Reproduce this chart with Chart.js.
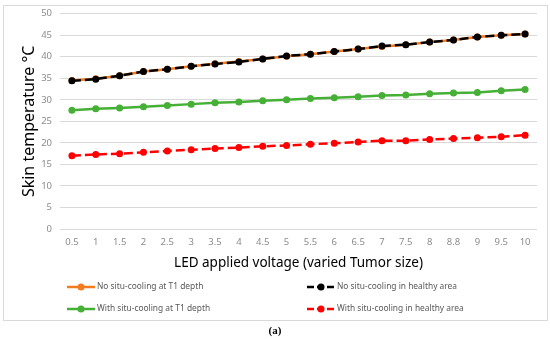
<!DOCTYPE html>
<html>
<head>
<meta charset="utf-8">
<script src="https://cdn.jsdelivr.net/npm/chart.js@4/dist/chart.umd.min.js"></script>
<style>
  html, body { margin: 0; padding: 0; background: #fff; }
  #wrap { position: relative; width: 550px; height: 339px; }
  #frame { position: absolute; left: 3px; top: 5px; width: 543px; height: 314px; border: 1px solid #d9d9d9; }
  #chart { position: absolute; left: 0; top: 0; }
  #caption { position: absolute; left: 0; width: 550px; top: 324px; text-align: center;
             font: bold 11px "Liberation Serif", serif; color: #000; }
</style>
</head>
<body>
<div id="wrap">
  <div id="frame"></div>
  <canvas id="chart" width="550" height="339"></canvas>
  <div id="caption">(a)</div>
</div>
<script>
const voltages = ['0.5', '1', '1.5', '2', '2.5', '3', '3.5', '4', '4.5', '5', '5.5', '6', '6.5', '7', '7.5', '8', '8.8', '9', '9.5', '10'];
const noCoolingT1 = [34.5, 34.9, 35.6, 36.6, 37.1, 37.8, 38.4, 38.9, 39.5, 40.1, 40.6, 41.2, 41.8, 42.4, 42.8, 43.4, 43.9, 44.6, 45.0, 45.3];
const noCoolingHealthy = [34.4, 34.8, 35.6, 36.6, 37.1, 37.8, 38.3, 38.8, 39.5, 40.2, 40.6, 41.2, 41.8, 42.5, 42.8, 43.4, 43.9, 44.6, 45.0, 45.3];
const withCoolingT1 = [27.6, 27.9, 28.1, 28.4, 28.7, 29.0, 29.3, 29.5, 29.8, 30.0, 30.3, 30.5, 30.7, 31.0, 31.1, 31.4, 31.6, 31.7, 32.1, 32.4];
const withCoolingHealthy = [17.0, 17.3, 17.5, 17.8, 18.1, 18.4, 18.7, 18.9, 19.2, 19.4, 19.7, 19.9, 20.2, 20.5, 20.5, 20.8, 21.0, 21.2, 21.4, 21.8];

const dash = [9, 4];

const legendItems = [
    { text: 'No situ-cooling at T1 depth', color: '#f47c20', dashed: false, x: 67, y: 287 },
    { text: 'No situ-cooling in healthy area', color: '#000000', dashed: true, x: 307, y: 287 },
    { text: 'With situ-cooling at T1 depth', color: '#45b035', dashed: false, x: 67, y: 309 },
    { text: 'With situ-cooling in healthy area', color: '#ff0000', dashed: true, x: 307, y: 309 },
];

const legendPlugin = {
    id: 'boxLegend',
    afterDraw(chart) {
        const ctx = chart.ctx;
        ctx.save();
        legendItems.forEach((item) => {
            ctx.strokeStyle = item.color;
            ctx.fillStyle = item.color;
            ctx.lineWidth = 2.5;
            ctx.setLineDash(item.dashed ? [7, 3] : []);
            ctx.beginPath();
            ctx.moveTo(item.x, item.y);
            ctx.lineTo(item.x + 28, item.y);
            ctx.stroke();
            ctx.setLineDash([]);
            ctx.beginPath();
            ctx.arc(item.x + 14, item.y, 3.5, 0, Math.PI * 2);
            ctx.fill();
            ctx.fillStyle = '#595959';
            ctx.font = '8.4px "Noto Sans"';
            ctx.textBaseline = 'middle';
            ctx.fillText(item.text, item.x + 30, item.y);
        });
        ctx.restore();
    }
};

const lineStyle = (color, dashed) => ({
    borderColor: color,
    backgroundColor: color,
    pointBackgroundColor: color,
    pointBorderColor: color,
    borderWidth: 2.5,
    pointRadius: 3.5,
    pointBorderWidth: 0,
    borderDash: dashed ? dash : [],
    tension: 0,
});

new Chart(document.getElementById('chart'), {
    type: 'line',
    plugins: [legendPlugin],
    data: {
        labels: voltages,
        datasets: [
            { label: 'No situ-cooling at T1 depth', data: noCoolingT1, order: 2, ...lineStyle('#f47c20', false) },
            { label: 'No situ-cooling in healthy area', data: noCoolingHealthy, order: 1, ...lineStyle('#000000', true) },
            { label: 'With situ-cooling at T1 depth', data: withCoolingT1, order: 3, ...lineStyle('#45b035', false) },
            { label: 'With situ-cooling in healthy area', data: withCoolingHealthy, order: 0, ...lineStyle('#ff0000', true) },
        ]
    },
    options: {
        responsive: false,
        animation: false,
        layout: { padding: { left: 0, right: 13, top: 11, bottom: 65 } },
        plugins: {
            legend: { display: false },
            tooltip: { enabled: false },
        },
        scales: {
            x: {
                offset: true,
                afterFit: (scale) => { scale.height = 45; },
                grid: { display: false, drawTicks: false, offset: true },
                border: { display: false },
                ticks: { color: '#8c8c8c', font: { family: 'Noto Sans', size: 9.5 }, padding: 8, maxRotation: 0, autoSkip: false },
                title: {
                    display: true,
                    text: 'LED applied voltage (varied Tumor size)',
                    color: '#000',
                    font: { family: 'Noto Sans', size: 13.5 },
                    padding: { top: 0, bottom: 3 },
                },
            },
            y: {
                min: 0,
                max: 50,
                afterFit: (scale) => { scale.width = 60; },
                grid: { color: '#d9d9d9', lineWidth: 1, drawTicks: false },
                border: { display: false },
                ticks: { stepSize: 5, color: '#8c8c8c', font: { family: 'Noto Sans', size: 9.5 }, padding: 8 },
                title: {
                    display: true,
                    text: 'Skin temperature °C',
                    color: '#000',
                    font: { family: 'Noto Sans', size: 16 },
                    padding: { top: 20, bottom: 0 },
                },
            }
        }
    }
});
</script>
</body>
</html>
